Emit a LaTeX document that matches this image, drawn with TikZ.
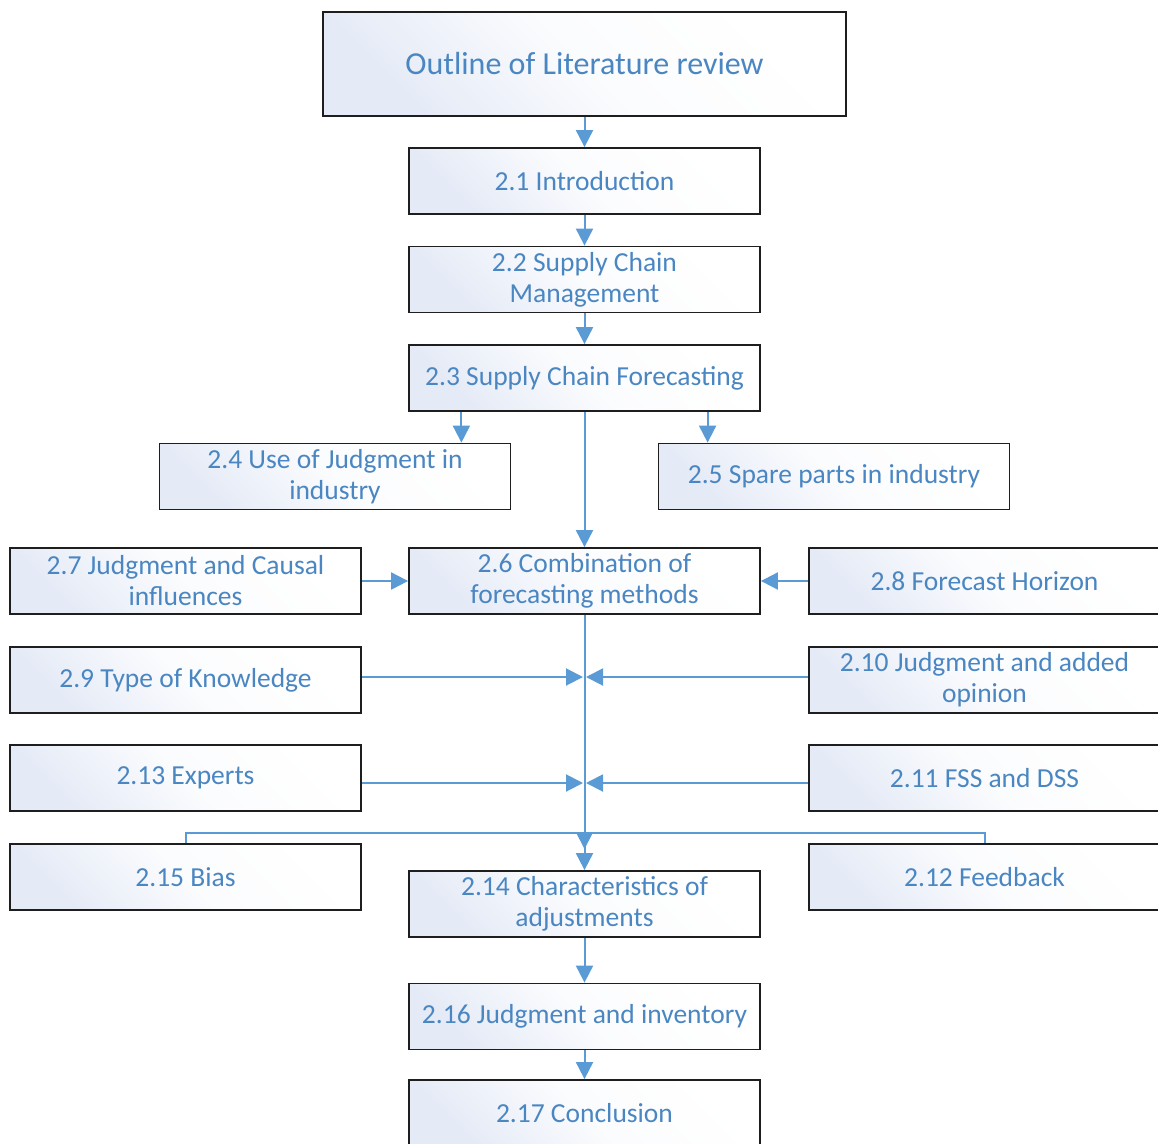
\documentclass[tikz,border=0pt]{standalone}
\usepackage{fontspec}
\setmainfont{Carlito}
\usepackage{xcolor}
\usetikzlibrary{arrows.meta, positioning}
\definecolor{linkblue}{HTML}{5B9BD5}
\definecolor{labelblue}{HTML}{4A86C2}
\definecolor{boxtint}{HTML}{E4EAF6}
\definecolor{boxedge}{HTML}{1E1E1E}

\begin{document}
\begin{tikzpicture}[x=1pt, y=-1pt, >=Triangle,
    every node/.style={font=\fontsize{27.5}{31}\selectfont, text=labelblue},
    topic/.style={draw=boxedge, line width=1.8pt, align=center,
        minimum width=351pt, minimum height=66pt, inner sep=2pt,
        top color=boxtint, bottom color=white, middle color=white!85!boxtint,
        shading angle=135},
    conn/.style={draw=linkblue, line width=2pt},
    arr/.style={conn, -{Triangle[length=17pt, width=17pt]}}]

    % page frame
    \clip (0,0) rectangle (1158,1143);

    % Title box
    \node[topic, minimum width=523pt, minimum height=104pt,
          font=\fontsize{32}{36}\selectfont] (outline) at (584.5,64) {Outline of Literature review};

    % Main column
    \node[topic] (intro) at (584.5,181) {2.1 Introduction};
    \node[topic] (scm)   at (584.5,279.5) {2.2 Supply Chain\\Management};
    \node[topic] (scf)   at (584.5,378) {2.3 Supply Chain Forecasting};

    % Second row (two branches from 2.3)
    \node[topic] (judg)  at (335,476.5) {2.4 Use of Judgment in\\industry};
    \node[topic] (spare) at (834,476.5) {2.5 Spare parts in industry};

    % Combination row
    \node[topic] (comb)    at (584.5,581) {2.6 Combination of\\forecasting methods};
    \node[topic] (causal)  at (185.5,581) {2.7 Judgment and Causal\\influences};
    \node[topic] (horizon) at (984.5,581) {2.8 Forecast Horizon};

    % Side boxes feeding the trunk
    \node[topic] (knowl)   at (185.5,680) {2.9 Type of Knowledge};
    \node[topic] (opinion) at (984.5,680) {2.10 Judgment and added\\opinion};
    \node[topic] (experts) at (185.5,778) {2.13 Experts};
    \node[topic] (fss)     at (984.5,778) {2.11 FSS and DSS};
    \node[topic] (bias)     at (185.5,877) {2.15 Bias};
    \node[topic] (feedback) at (984.5,877) {2.12 Feedback};

    % Lower column
    \node[topic] (adjust) at (584.5,904) {2.14 Characteristics of\\adjustments};
    \node[topic] (invent) at (584.5,1016.5) {2.16 Judgment and inventory};
    \node[topic] (concl)  at (584.5,1113) {2.17 Conclusion};

    % Meeting points on the trunk
    \coordinate (knowlhit)  at (583,677);
    \coordinate (opinhit)   at (586,677);
    \coordinate (experthit) at (583,783);
    \coordinate (fsshit)    at (586,783);
    \coordinate (trunkend)  at (584.5,849);
    \coordinate (split)     at (584.5,833);

    % Main column arrows
    \draw[arr] (outline) -- (intro);
    \draw[arr] (intro) -- (scm);
    \draw[arr] (scm) -- (scf);
    \draw[arr] (scf.south -| judg.north east) ++(-50,0) coordinate (scfl) -- (scfl |- judg.north);
    \draw[arr] (scf.south -| spare.north west) ++(50,0) coordinate (scfr) -- (scfr |- spare.north);
    \draw[arr] (scf) -- (comb);
    \draw[arr] (causal) -- (comb);
    \draw[arr] (horizon) -- (comb);

    % Trunk below 2.6
    \draw[arr] (comb) -- (trunkend);
    \draw[arr] (knowlhit -| knowl.east) -- (knowlhit);
    \draw[arr] (opinhit -| opinion.west) -- (opinhit);
    \draw[arr] (experthit -| experts.east) -- (experthit);
    \draw[arr] (fsshit -| fss.west) -- (fsshit);

    % Bias and Feedback into 2.14
    \draw[conn] (bias.north) |- (split);
    \draw[conn] (feedback.north) |- (split);
    \draw[arr] (split) -- (adjust);

    \draw[arr] (adjust) -- (invent);
    \draw[arr] (invent) -- (concl);

\end{tikzpicture}
\end{document}
